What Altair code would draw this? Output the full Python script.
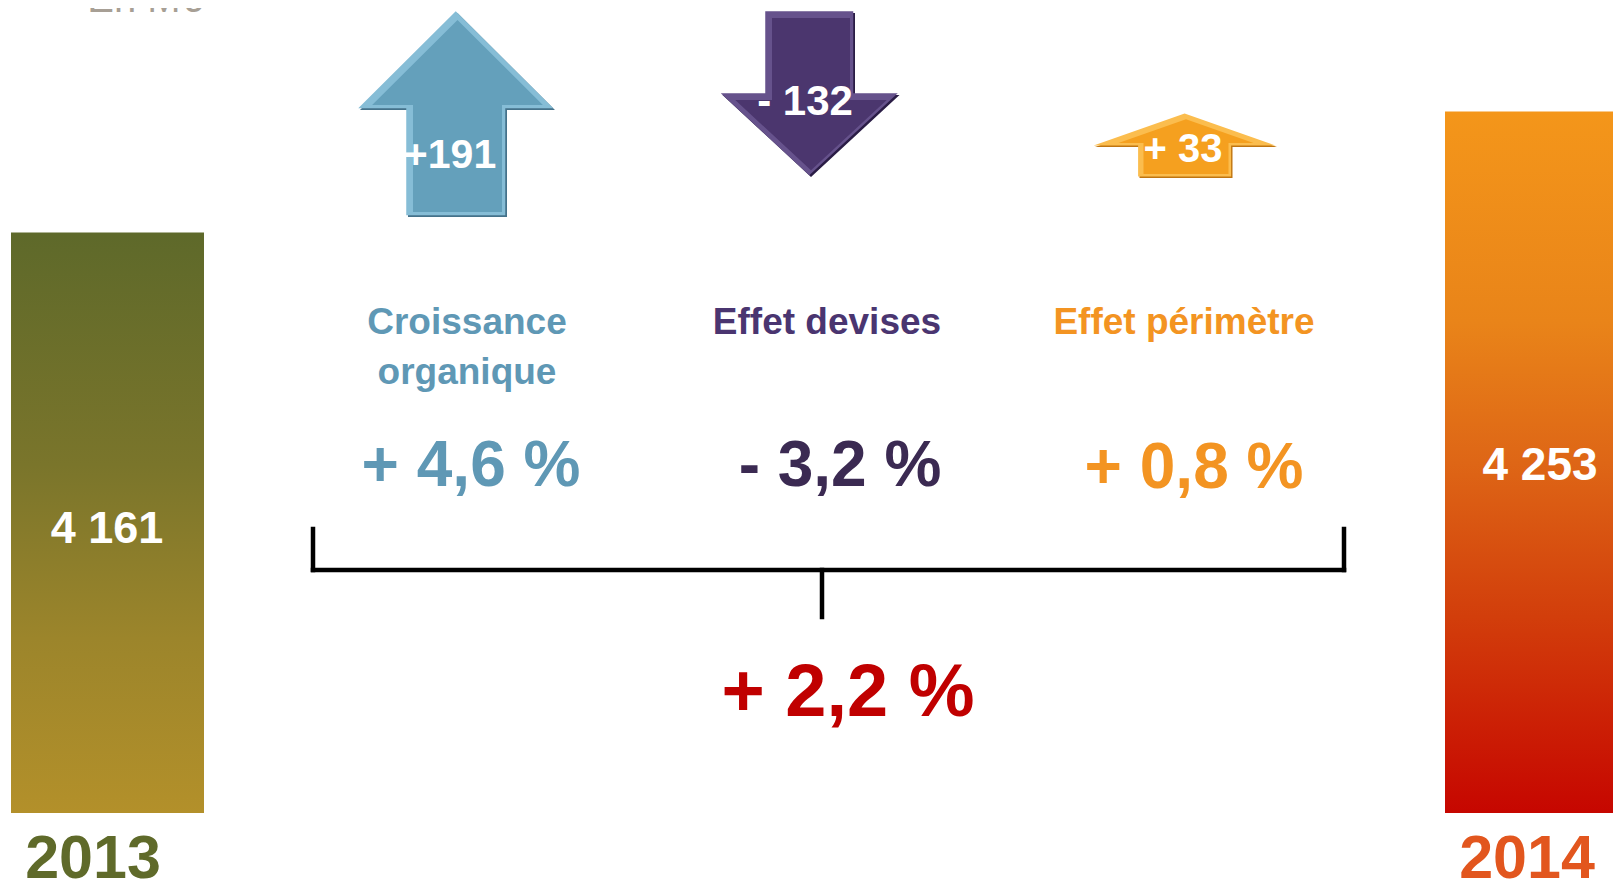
import math
import altair as alt
import pandas as pd

# ---------------- data ----------------
years = ["2013", "2014"]
revenue = [4161, 4253]                       # M€
revenue_labels = ["4 161", "4 253"]
effect_names = ["Croissance organique", "Effet devises", "Effet périmètre"]
effect_name_lines = [["Croissance", "organique"], ["Effet devises"], ["Effet périmètre"]]
effect_values = [191, -132, 33]              # M€
effect_value_labels = ["+191", "- 132", "+ 33"]
effect_pct_labels = ["+ 4,6 %", "- 3,2 %", "+ 0,8 %"]
total_pct_label = "+ 2,2 %"
unit_label = "En M€"

# ---------------- layout (frame pixels) ----------------
W, H, M = 1605, 876, 8
FONT = "Liberation Sans"
xs = alt.Scale(domain=[M, M + W], range=[0, W], nice=False, zero=False)
ys = alt.Scale(domain=[M, M + H], range=[0, H], nice=False, zero=False)

# value scale for the revenue bars (truncated axis)
BAR_BASE = 3720          # value at the bars' foot
BASE_PX = 813            # frame y of the bars' foot
PX_PER_UNIT = 1.3163
v_top = BAR_BASE + (BASE_PX - M) / PX_PER_UNIT
v_bot = BAR_BASE - (M + H - BASE_PX) / PX_PER_UNIT
vs = alt.Scale(domain=[v_bot, v_top], nice=False, zero=False)

bar_x0 = [11, 1445]
bar_x1 = [204, 1625]
bar_grad = [
    [("#5e692a", 0.0), ("#7a752b", 0.4), ("#9c852b", 0.7), ("#b3902a", 1.0)],
    [("#f4961a", 0.0), ("#e98419", 0.3), ("#de6616", 0.5), ("#d23e0b", 0.72), ("#c60600", 1.0)],
]
bar_label_pos = [(107, 543, 45), (1540, 480, 46)]
year_pos = [(93, 878), (1527, 878)]
year_size = 61
year_colors = ["#5f6a2a", "#e2561e"]

effect_colors = ["#5f98b5", "#4a3570", "#f39422"]
effect_pct_colors = ["#5f98b5", "#3b2a52", "#f39422"]
arrow_main = ["#64a0bb", "#4b366e", "#f5a01f"]
arrow_dark = ["#44728a", "#2a1c45", "#c07510"]
arrow_light = ["#86bdd6", "#66528c", "#fbbd4e"]
arrow_center = [(457.5, 115), (811, 95), (1186, 146.5)]
arrow_half_h = [102, 82, 31.5]
arrow_bevel = [5, 5, 4]
# arrow outlines, pixels relative to centre (y down)
arrow_polys = [
    [(0, -102), (97.5, -5), (49.5, -5), (49.5, 102), (-49.5, 102), (-49.5, -5), (-97.5, -5)],
    [(-44, -82), (44, -82), (44, 0), (88.5, 0), (0, 82), (-88.5, 0), (-44, 0)],
    [(0, -31.5), (91, 0.5), (46.5, 0.5), (46.5, 31.5), (-46.5, 31.5), (-46.5, 0.5), (-91, 0.5)],
]
arrow_label_pos = [(450, 168, 41), (805, 115, 42), (1183, 162, 40)]
name_x = [467, 827, 1184]
name_baseline = 334
name_line_gap = 50
name_size = 37
pct_pos = [(471, 486), (840, 486), (1194, 488)]


def inset(poly, d):
    n = len(poly)
    area = sum(poly[i][0] * poly[(i + 1) % n][1] - poly[(i + 1) % n][0] * poly[i][1] for i in range(n)) / 2
    sgn = 1 if area > 0 else -1
    lines = []
    for i in range(n):
        x1, y1 = poly[i]
        x2, y2 = poly[(i + 1) % n]
        dx, dy = x2 - x1, y2 - y1
        L = math.hypot(dx, dy)
        nx, ny = -dy / L * sgn, dx / L * sgn
        lines.append(((x1 + d * nx, y1 + d * ny), (dx, dy)))
    out = []
    for i in range(n):
        (p1, d1), (p2, d2) = lines[i - 1], lines[i]
        cr = d1[0] * d2[1] - d1[1] * d2[0]
        t = ((p2[0] - p1[0]) * d2[1] - (p2[1] - p1[1]) * d2[0]) / cr
        out.append((p1[0] + t * d1[0], p1[1] + t * d1[1]))
    return out


def to_path(poly, r):
    return "M" + "L".join(f"{x / r:.4f},{y / r:.4f}" for x, y in poly) + "Z"


layers = []

# revenue bars
for i in range(len(years)):
    g = alt.LinearGradient(
        gradient="linear",
        stops=[alt.GradientStop(color=c, offset=o) for c, o in bar_grad[i]],
        x1=0, x2=0, y1=0, y2=1,
    )
    df = pd.DataFrame({"year": [years[i]], "value": [revenue[i]], "base": [BAR_BASE],
                       "x0": [bar_x0[i]], "x1": [bar_x1[i]]})
    layers.append(
        alt.Chart(df).mark_rect(color=g).encode(
            x=alt.X("x0:Q", scale=xs, axis=None), x2="x1:Q",
            y=alt.Y("value:Q", scale=vs, axis=None), y2="base:Q",
        )
    )

# arrows (bevelled: dark outline, light top-left edge, main face)
for i in range(len(effect_values)):
    cx, cy = arrow_center[i]
    r = arrow_half_h[i]
    size = (2 * r) ** 2
    d = arrow_bevel[i]
    outer = to_path(arrow_polys[i], r)
    inner = to_path(inset(arrow_polys[i], d), r)
    off = d * 0.35
    for path, col, ox, oy in [(outer, arrow_dark[i], 0, 0),
                              (outer, arrow_light[i], -off, -off),
                              (inner, arrow_main[i], 0, 0)]:
        df = pd.DataFrame({"effect": [effect_names[i]], "value": [effect_values[i]],
                           "x": [cx + ox], "y": [cy + oy]})
        layers.append(
            alt.Chart(df).mark_point(shape=path, filled=True, size=size, opacity=1,
                                     fill=col, strokeWidth=0).encode(
                x=alt.X("x:Q", scale=xs, axis=None), y=alt.Y("y:Q", scale=ys, axis=None)
            )
        )

# bracket
bracket = pd.DataFrame({
    "x": [313, 313, 1344, 822], "x2": [1344, 313, 1344, 822],
    "y": [570, 529, 529, 570], "y2": [570, 570, 570, 617],
})
layers.append(
    alt.Chart(bracket).mark_rule(color="black", strokeWidth=4.5, strokeCap="square").encode(
        x=alt.X("x:Q", scale=xs, axis=None), x2="x2:Q",
        y=alt.Y("y:Q", scale=ys, axis=None), y2="y2:Q",
    )
)


def text_layer(rows, weight="bold"):
    df = pd.DataFrame(rows, columns=["t", "x", "y", "size", "color"])
    return alt.Chart(df).mark_text(font=FONT, fontWeight=weight, align="center",
                                   baseline="alphabetic").encode(
        x=alt.X("x:Q", scale=xs, axis=None),
        y=alt.Y("y:Q", scale=ys, axis=None),
        text="t:N",
        size=alt.Size("size:Q", scale=None, legend=None),
        color=alt.Color("color:N", scale=None, legend=None),
    )


rows = []
for i in range(len(years)):
    bx, by, bs = bar_label_pos[i]
    rows.append((revenue_labels[i], bx, by, bs, "#ffffff"))
    yx, yy = year_pos[i]
    rows.append((years[i], yx, yy, year_size, year_colors[i]))
for i in range(len(effect_values)):
    ax_, ay_, as_ = arrow_label_pos[i]
    rows.append((effect_value_labels[i], ax_, ay_, as_, "#ffffff"))
    for j, line in enumerate(effect_name_lines[i]):
        rows.append((line, name_x[i], name_baseline + j * name_line_gap, name_size, effect_colors[i]))
    px, py = pct_pos[i]
    rows.append((effect_pct_labels[i], px, py, 64, effect_pct_colors[i]))
rows.append((total_pct_label, 848, 716, 74, "#c00000"))
layers.append(text_layer(rows))
layers.append(text_layer([(unit_label, 145, 12, 40, "#a79f95")], weight="normal"))

chart = alt.layer(*layers).resolve_scale(y="independent").properties(
    width=W, height=H, padding=0, autosize=alt.AutoSizeParams(type="none"),
    background="white",
).configure_view(strokeWidth=0)

chart.save("out.html", embed_options={"renderer": "svg", "actions": False})
